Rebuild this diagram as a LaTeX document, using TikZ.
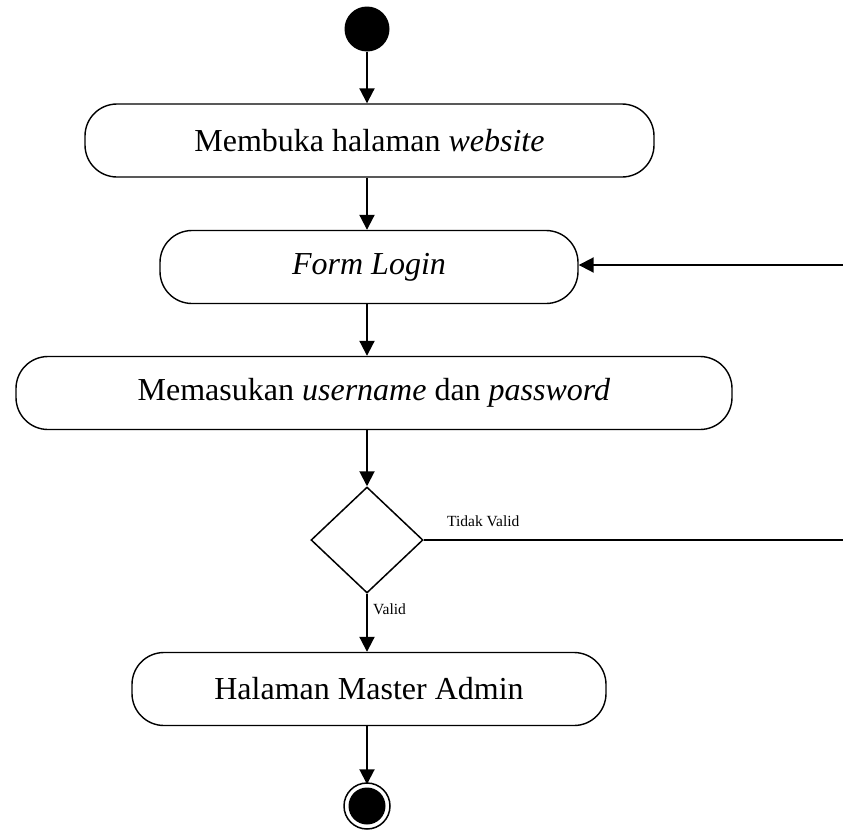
\documentclass[tikz,border=0pt]{standalone}
\usepackage{fontspec}
\setmainfont{Liberation Serif}
\usetikzlibrary{arrows.meta,shapes.geometric}
\tikzset{
  act/.style={draw, line width=1.4pt, rounded corners=32pt, minimum height=73pt, inner sep=0pt,
    font=\fontsize{32}{38}\selectfont},
  flow/.style={line width=2pt, -{Triangle[length=15pt,width=15pt]}},
  plain/.style={line width=1.6pt},
  lbl/.style={font=\fontsize{15.5}{18}\selectfont, inner sep=0pt, anchor=base west},
}
\begin{document}
\begin{tikzpicture}[x=1pt,y=-1pt]
\useasboundingbox (0,0) rectangle (843,830);
\node[circle, fill=black, minimum size=45pt, inner sep=0pt] (start) at (367,29) {};
\node[act, minimum width=569pt] (a1) at (369.5,140.5) {Membuka halaman \textit{website}};
\node[act, minimum width=418pt] (a2) at (369,267) {\textit{Form Login}};
\node[act, minimum width=716pt] (a3) at (374,393) {Memasukan \textit{username} dan \textit{password}};
\node[diamond, draw, line width=1.5pt, minimum width=112pt, minimum height=106pt, inner sep=0pt] (dec) at (367,540) {};
\node[act, minimum width=474pt] (a4) at (369,689) {Halaman Master Admin};
\node[circle, draw, line width=1.5pt, minimum size=46pt, inner sep=0pt,
  path picture={\fill (path picture bounding box.center) circle (18.5pt);}] (end) at (367,806) {};
\coordinate (rin) at (843,265);
\coordinate (rout) at (843,540);
\draw[flow] (start) -- (start |- a1.north);
\draw[flow] (a1.south -| start) -- (a2.north -| start);
\draw[flow] (a2.south -| start) -- (a3.north -| start);
\draw[flow] (a3.south -| start) -- (dec.north);
\draw[flow] (dec.south) -- (a4.north -| dec);
\draw[flow] (a4.south -| dec) -- ([yshift=-2pt]end.north);
\draw[plain] (dec.east) -- (rout);
\draw[flow] (rin) -- (a2.east |- rin);
\node[lbl] (tv) at (447,526) {Tidak Valid};
\node[lbl] (v) at (373,614) {Valid};
\end{tikzpicture}
\end{document}
